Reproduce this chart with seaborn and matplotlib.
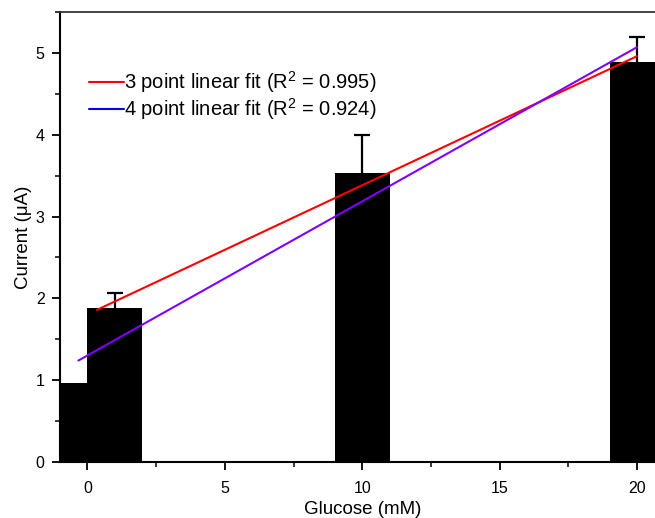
import numpy as np
import pandas as pd
import matplotlib
matplotlib.use("Agg")
import matplotlib.pyplot as plt
from matplotlib.lines import Line2D
from matplotlib.ticker import MultipleLocator
import seaborn as sns

# Mean current response per glucose concentration, with upper error
glucose_mM = [0, 1, 10, 20]
current_uA = [0.96, 1.88, 3.53, 4.89]
current_err = [0.0, 0.19, 0.47, 0.30]

# Linear fits (x extent and end values)
fit3_x = [0.35, 20.0]
fit3_y = [1.86, 4.96]
fit4_x = [-0.33, 20.0]
fit4_y = [1.24, 5.07]
fit_labels = ["3 point linear fit (R$^2$ = 0.995)", "4 point linear fit (R$^2$ = 0.924)"]

sns.set_theme(style="ticks")
plt.rcParams["font.family"] = ["Liberation Sans", "DejaVu Sans"]
plt.rcParams["text.color"] = "black"
plt.rcParams["axes.labelcolor"] = "black"
plt.rcParams["mathtext.fontset"] = "custom"
plt.rcParams["mathtext.rm"] = "Liberation Sans"

fig = plt.figure(figsize=(6.55, 5.18), dpi=100)
ax = fig.add_axes([60 / 655, 56 / 518, 604.5 / 655, 450 / 518])

df = pd.DataFrame({"glucose": glucose_mM, "current": current_uA})
sns.barplot(data=df, x="glucose", y="current", native_scale=True, width=2,
            color="black", edgecolor="black", linewidth=0, errorbar=None,
            saturation=1, ax=ax)

# upper-only error bars
_, caps, _ = ax.errorbar(glucose_mM[1:], current_uA[1:],
                         yerr=[np.zeros(3), current_err[1:]],
                         fmt="none", ecolor="black", elinewidth=1.6,
                         capsize=6, capthick=1.6, zorder=3)
caps[0].set_visible(False)

sns.lineplot(x=fit3_x, y=fit3_y, color="#ff0000", linewidth=1.5, ax=ax, zorder=4)
sns.lineplot(x=fit4_x, y=fit4_y, color="#8000ff", linewidth=1.5, ax=ax, zorder=4)

ax.set_xlim(-1, 21)
ax.set_ylim(0, 5.5)
ax.xaxis.set_major_locator(MultipleLocator(5))
ax.xaxis.set_minor_locator(MultipleLocator(2.5))
ax.yaxis.set_major_locator(MultipleLocator(1))
ax.yaxis.set_minor_locator(MultipleLocator(0.5))
ax.tick_params(which="major", direction="out", length=6, width=1.3,
               labelsize=11.5, color="black", labelcolor="black", pad=5)
ax.tick_params(axis="x", which="major", pad=8)
ax.tick_params(which="minor", direction="out", length=3.5, width=1.1, color="black")
ax.tick_params(top=False, right=False, which="both")

for side in ["left", "bottom"]:
    ax.spines[side].set_linewidth(1.5)
    ax.spines[side].set_color("black")
ax.spines["top"].set_linewidth(1.3)
ax.spines["top"].set_color("#333333")
ax.spines["right"].set_visible(False)

ax.set_xlabel("Glucose (mM)", fontsize=13.5, color="black", labelpad=3)
ax.set_ylabel("Current (\u03bcA)", fontsize=13.5, color="black", labelpad=3)

handles = [Line2D([0], [0], color="#ff0000", lw=1.5),
           Line2D([0], [0], color="#0000ff", lw=1.5)]
ax.legend(handles, fit_labels, loc="upper left", bbox_to_anchor=(0.035, 0.89),
          frameon=False, fontsize=14.5, handlelength=1.75, handletextpad=0.0,
          labelspacing=0.05, borderaxespad=0)

fig.savefig("out.png", dpi=100)
